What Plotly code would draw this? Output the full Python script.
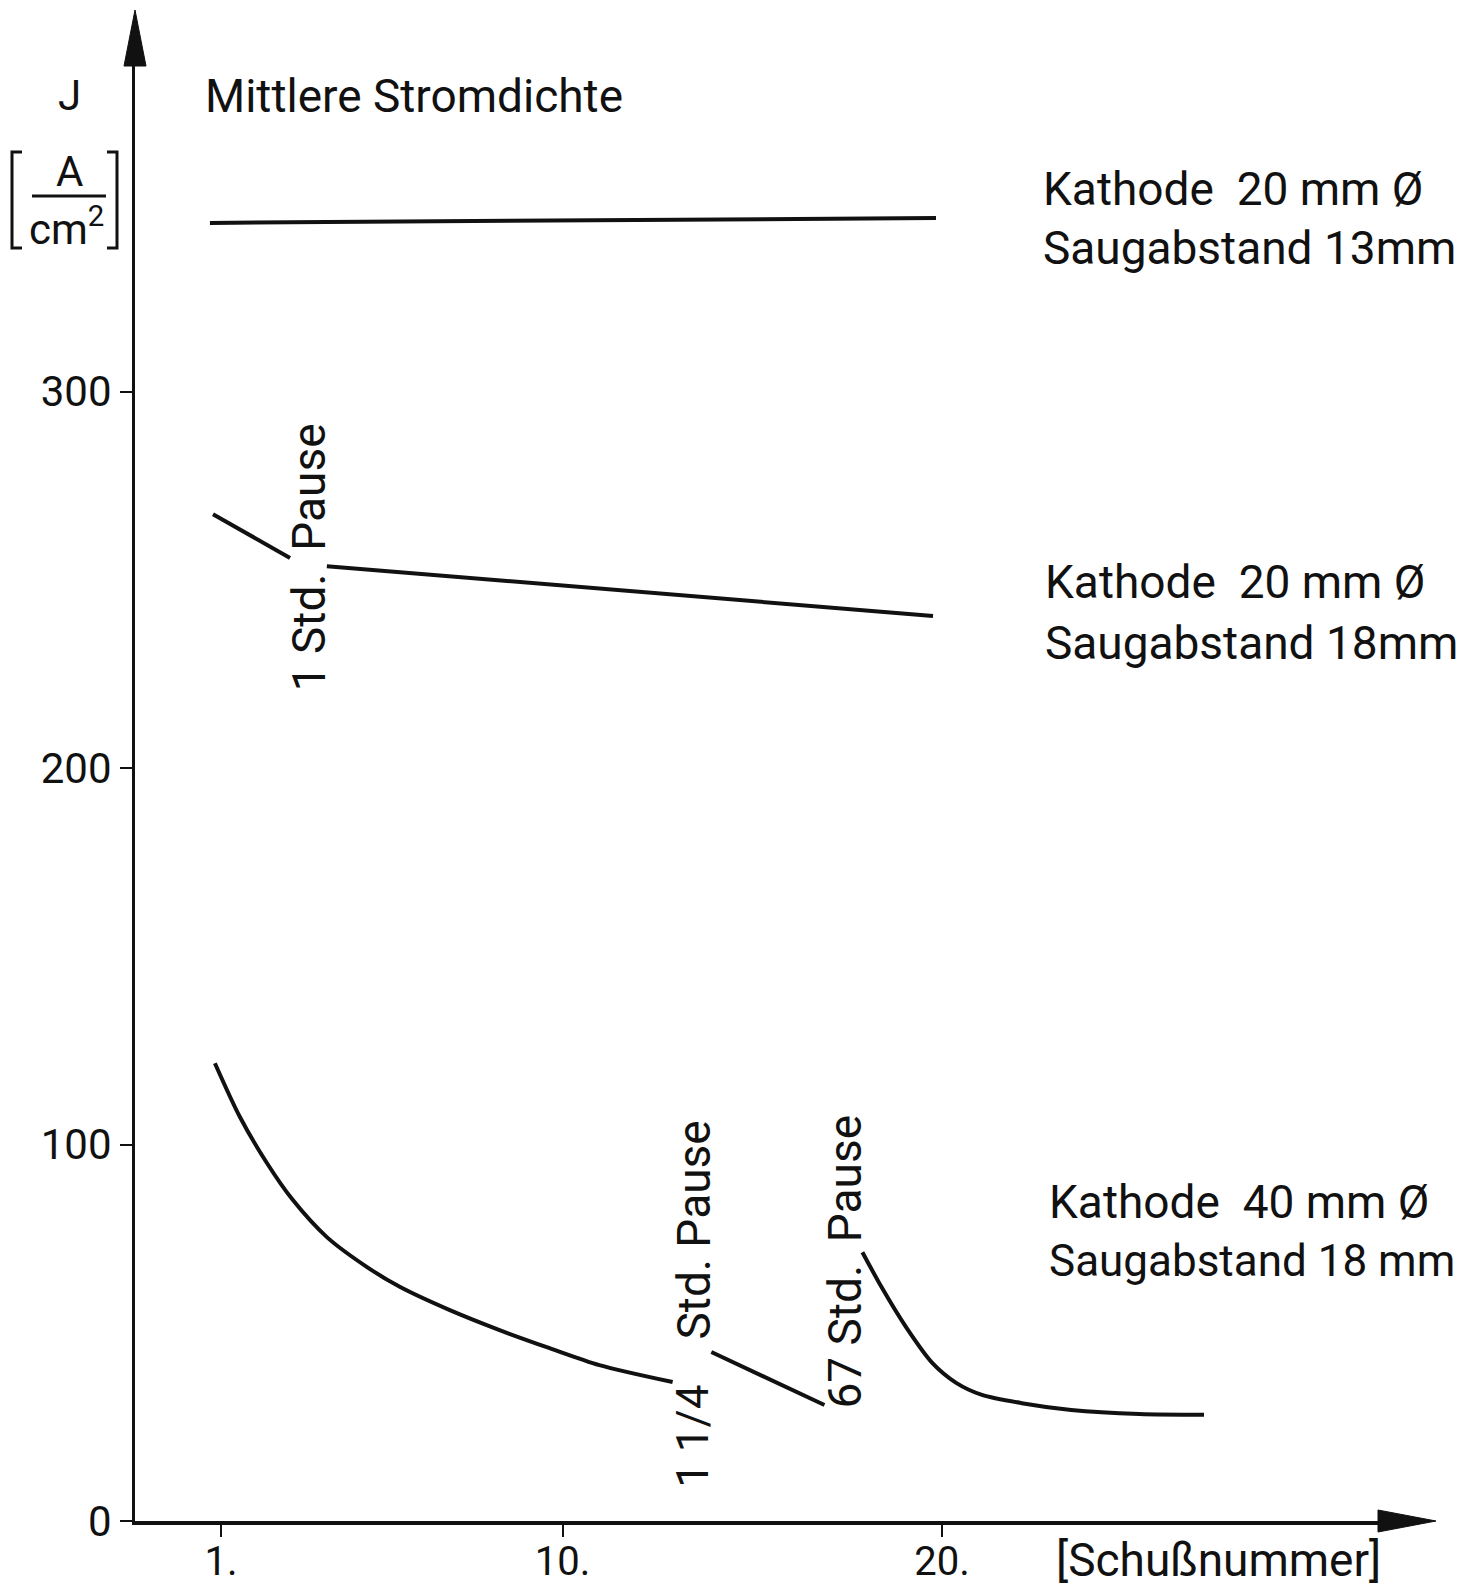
import plotly.graph_objects as go

# ---------------- data ----------------
# Kathode 20 mm, Saugabstand 13 mm
top_x = [0.71, 19.84]
top_j = [344.8, 346.1]

# Kathode 20 mm, Saugabstand 18 mm (before / after 1 Std. Pause)
mid_a_x = [0.79, 2.82]
mid_a_j = [267.4, 255.8]
mid_b_x = [3.79, 19.76]
mid_b_j = [253.6, 240.4]

# Kathode 40 mm, Saugabstand 18 mm
low_a_x = [0.84, 1.5, 2.21, 2.89, 3.79, 4.84, 5.71, 7.03, 8.34, 9.66, 10.97, 12.9]
low_a_j = [121.6, 107.3, 95.1, 85.3, 75.4, 67.5, 62.2, 56.0, 50.7, 45.9, 41.4, 36.9]
low_b_x = [13.92, 16.9]
low_b_j = [44.9, 30.8]
low_c_x = [17.9, 18.4, 19.05, 19.74, 20.37, 21.05, 22.1, 23.4, 25.2, 26.9]
low_c_j = [71.4, 62.2, 51.5, 42.0, 36.7, 33.5, 31.3, 29.5, 28.4, 28.2]

x_tickvals = [1, 10, 20]
x_ticktext = ["1.", "10.", "20."]
y_tickvals = [0, 100, 200, 300]
y_ticktext = ["0", "100", "200", "300"]

# ---------------- layout geometry ----------------
W, H = 1474, 1588
L, R, T, B = 135, 1382, 64, 1521
PW, PH = R - L, B - T
X_RANGE = [-1.265, 31.59]
Y_RANGE = [0, 387.0]

def px(xp):
    return (xp - L) / PW

def py(yp):
    return (B - yp) / PH

INK = "#111111"
FONT = "Roboto, Liberation Sans, sans-serif"
FS = 42
FL = 46

fig = go.Figure()

def add_line(xs, ys, shape="linear"):
    fig.add_trace(go.Scatter(x=xs, y=ys, mode="lines",
                             line=dict(color=INK, width=4, shape=shape, smoothing=0.8),
                             hoverinfo="skip", showlegend=False))

add_line(top_x, top_j)
add_line(mid_a_x, mid_a_j)
add_line(mid_b_x, mid_b_j)
add_line(low_a_x, low_a_j, "spline")
add_line(low_b_x, low_b_j)
add_line(low_c_x, low_c_j, "spline")

ann = []

def text(x, y, s, size=FL, xanchor="center", yanchor="middle", angle=0, ref="data"):
    d = dict(x=x, y=y, text=s, showarrow=False, xanchor=xanchor, yanchor=yanchor,
             textangle=angle, font=dict(family=FONT, size=size, color=INK))
    if ref == "data":
        d.update(xref="x", yref="y")
    else:
        d.update(xref="paper", yref="paper")
    ann.append(d)

# title-ish label and axis unit
text(px(203), py(96), "Mittlere Stromdichte", xanchor="left", ref="paper")
text(px(69), py(96), "J", size=FS, ref="paper")
text(px(69), py(172), "A", size=FS, ref="paper")
text(px(66), py(226), "cm<sup>2</sup>", size=FS, ref="paper")

# curve labels
text(22.60, 353.8, "Kathode  20 mm Ø", xanchor="left")
text(22.60, 338.1, "Saugabstand 13mm", xanchor="left")
text(22.66, 249.4, "Kathode  20 mm Ø", xanchor="left")
text(22.66, 233.2, "Saugabstand 18mm", xanchor="left")
text(22.76, 84.7, "Kathode  40 mm Ø", xanchor="left")
text(22.76, 69.1, "Saugabstand 18 mm", size=44, xanchor="left")

# pause labels (rotated)
text(3.32, 256.0, "1 Std.  Pause", angle=-90)
text(13.45, 77.3, "Std. Pause", angle=-90)
text(13.45, 22.5, "1 1/4", size=44, angle=-90)
text(17.45, 69.0, "67 Std.  Pause", angle=-90)

# x axis title
text(px(1218), py(1560), "[Schußnummer]", ref="paper")

shapes = []
# fraction bar
shapes.append(dict(type="line", xref="paper", yref="paper",
                   x0=px(32), x1=px(106), y0=py(196), y1=py(196),
                   line=dict(color=INK, width=3)))
# brackets
shapes.append(dict(type="path", xref="paper", yref="paper",
                   path=f"M {px(22)},{py(152)} L {px(12)},{py(152)} L {px(12)},{py(248)} L {px(22)},{py(248)}",
                   line=dict(color=INK, width=3)))
shapes.append(dict(type="path", xref="paper", yref="paper",
                   path=f"M {px(107)},{py(152)} L {px(117)},{py(152)} L {px(117)},{py(248)} L {px(107)},{py(248)}",
                   line=dict(color=INK, width=3)))
# arrow heads
shapes.append(dict(type="path", xref="paper", yref="paper",
                   path=f"M {px(135)},{py(10)} L {px(124)},{py(66)} L {px(146)},{py(66)} Z",
                   fillcolor=INK, line=dict(color=INK, width=1)))
shapes.append(dict(type="path", xref="paper", yref="paper",
                   path=f"M {px(1436)},{py(1521)} L {px(1378)},{py(1510)} L {px(1378)},{py(1532)} Z",
                   fillcolor=INK, line=dict(color=INK, width=1)))

fig.update_layout(
    width=W, height=H, autosize=False,
    margin=dict(l=L, r=W - R, t=T, b=H - B, pad=0),
    paper_bgcolor="white", plot_bgcolor="white",
    annotations=ann, shapes=shapes,
    font=dict(family=FONT, color=INK),
    xaxis=dict(range=X_RANGE, showgrid=False, zeroline=False, showline=True,
               automargin=False,
               linecolor=INK, linewidth=4, ticks="outside", ticklen=12, tickwidth=2,
               tickcolor=INK, tickvals=x_tickvals, ticktext=x_ticktext,
               ticklabelstandoff=-10,
               tickfont=dict(family=FONT, size=40, color=INK)),
    yaxis=dict(range=Y_RANGE, showgrid=False, zeroline=False, showline=True,
               automargin=False,
               linecolor=INK, linewidth=3, ticks="outside", ticklen=12, tickwidth=2,
               tickcolor=INK, tickvals=y_tickvals, ticktext=y_ticktext,
               tickfont=dict(family=FONT, size=FS, color=INK)),
)

fig.write_html("out.html")
